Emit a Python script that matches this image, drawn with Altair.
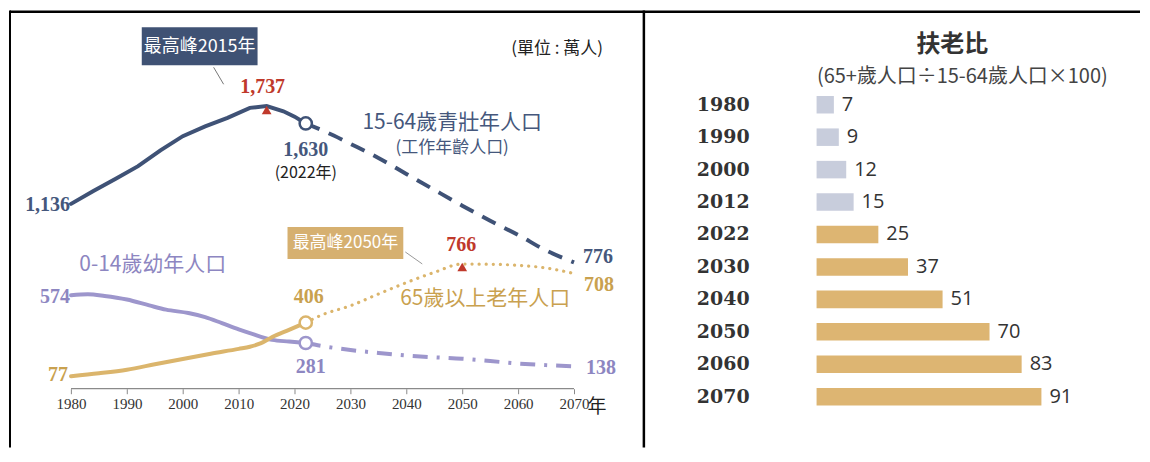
import altair as alt
import pandas as pd

# ---------------- data: population (萬人) ----------------
x_ticks = [1980, 1990, 2000, 2010, 2020, 2030, 2040, 2050, 2060, 2070]

# 15-64歲 (working age)
wa_hist_years = [1980, 1984, 1988, 1992, 1996, 2000, 2004, 2008, 2012, 2015, 2018, 2020, 2022]
wa_hist_vals = [1136, 1215, 1290, 1368, 1465, 1552, 1612, 1665, 1726, 1737, 1705, 1672, 1630]
wa_proj_years = [2022, 2027, 2030, 2035, 2040, 2045, 2050, 2055, 2060, 2065, 2070]
wa_proj_vals = [1630, 1556, 1505, 1418, 1320, 1222, 1125, 1032, 945, 850, 776]

# 0-14歲 (children)
ch_hist_years = [1980, 1983, 1986, 1990, 1994, 1997, 2001, 2004, 2007, 2010, 2012, 2016, 2019, 2022]
ch_hist_vals = [574, 580, 570, 548, 512, 486, 465, 440, 403, 365, 342, 300, 290, 281]
ch_proj_years = [2022, 2025, 2030, 2035, 2040, 2045, 2050, 2055, 2060, 2065, 2070]
ch_proj_vals = [281, 262, 238, 220, 204, 193, 184, 170, 155, 145, 138]

# 65歲以上 (elderly)
old_hist_years = [1980, 1985, 1990, 1995, 2000, 2005, 2010, 2012, 2014, 2016, 2019, 2022]
old_hist_vals = [77, 95, 117, 150, 183, 215, 245, 258, 280, 318, 362, 406]
old_proj_years = [2022, 2025, 2030, 2035, 2040, 2045, 2050, 2055, 2060, 2065, 2070]
old_proj_vals = [406, 455, 510, 582, 652, 715, 766, 765, 758, 742, 708]

# ---------------- data: 扶老比 ----------------
ratio_years = ["1980", "1990", "2000", "2012", "2022", "2030", "2040", "2050", "2060", "2070"]
ratio_vals = [7, 9, 12, 15, 25, 37, 51, 70, 83, 91]
ratio_kind = ["past", "past", "past", "past", "future", "future", "future", "future", "future", "future"]

# ---------------- styles ----------------
NAVY = "#3f5276"
NAVY_T = "#45577c"
PURPLE = "#9d96cc"
PURPLE_T = "#8d86c1"
GOLD = "#dbb56c"
GOLD_T = "#c9a14f"
RED = "#c0392b"
CJK = "Noto Sans CJK TC"
SERIF = "Liberation Serif"

W_L, H_L = 636, 379
X_DOM = [1968.9, 2082.5]
Y_DOM = [0, 2325]


def xenc(field="year"):
    return alt.X(
        f"{field}:Q",
        scale=alt.Scale(domain=X_DOM, nice=False, zero=False),
        axis=alt.Axis(values=x_ticks, format="d", title=None, grid=False, domain=False,
                      ticks=True, tickSize=5, tickColor="#8a8a8a", tickWidth=1,
                      labelFont=SERIF, labelFontSize=15, labelColor="#333333",
                      labelPadding=3, labelFlush=False),
    )


def yenc(field="value"):
    return alt.Y(f"{field}:Q", scale=alt.Scale(domain=Y_DOM, nice=False, zero=True), axis=None)


def series(years, vals):
    return pd.DataFrame({"year": years, "value": vals})


def line(years, vals, color, dash=None, width=4.0, cap="round", interp="monotone"):
    kw = dict(color=color, strokeWidth=width, strokeCap=cap, interpolate=interp)
    if dash:
        kw["strokeDash"] = dash
    return alt.Chart(series(years, vals)).mark_line(**kw).encode(x=xenc(), y=yenc())


def ring(year, value, color):
    return alt.Chart(series([year], [value])).mark_point(
        shape="circle", size=150, filled=True, fill="white", stroke=color,
        strokeWidth=2.5, opacity=1, fillOpacity=1
    ).encode(x=xenc(), y=yenc())


def peak(year, value, yoff):
    return alt.Chart(series([year], [value])).mark_point(
        shape="triangle-up", size=95, filled=True, color=RED, opacity=1, yOffset=yoff
    ).encode(x=xenc(), y=yenc())


def vlabel(year, value, text, color, dx=0, dy=0, align="center", size=20, font=SERIF, weight="bold"):
    df = pd.DataFrame({"year": [year], "value": [value], "t": [text]})
    return alt.Chart(df).mark_text(
        color=color, dx=dx, dy=dy, align=align, baseline="middle",
        font=font, fontSize=size, fontWeight=weight
    ).encode(x=xenc(), y=yenc(), text="t:N")


def note(x, y, text, color, size=20, font=CJK, weight="normal", align="center"):
    return alt.Chart(pd.DataFrame({"t": [text]})).mark_text(
        color=color, fontSize=size, font=font, fontWeight=weight, align=align, baseline="middle"
    ).encode(x=alt.value(x), y=alt.value(y), text="t:N")


def box(x1, x2, y1, y2, color):
    return alt.Chart(pd.DataFrame({"a": [0]})).mark_rect(color=color).encode(
        x=alt.value(x1), x2=alt.value(x2), y=alt.value(y1), y2=alt.value(y2)
    )


def seg(x1, y1, x2, y2, color, width=1.0):
    return alt.Chart(pd.DataFrame({"a": [0]})).mark_rule(color=color, strokeWidth=width).encode(
        x=alt.value(x1), x2=alt.value(x2), y=alt.value(y1), y2=alt.value(y2)
    )


# ---------------- left panel ----------------
frame = [
    seg(1, 1.25, 1133, 1.25, "black", 2.5),
    seg(1, 0, 1, 438, "black", 2),
    seg(636, 0, 636, 438, "black", 2.5),
]

axis_line = alt.Chart(pd.DataFrame({"a": [x_ticks[0]], "b": [x_ticks[-1]], "v": [0]})).mark_rule(
    color="#8a8a8a", strokeWidth=1.3
).encode(x=xenc("a"), x2="b:Q", y=yenc("v"))

lines = [
    line(wa_hist_years, wa_hist_vals, NAVY, interp="linear"),
    line(wa_proj_years, wa_proj_vals, NAVY, dash=[15, 10], cap="butt"),
    line(ch_hist_years, ch_hist_vals, PURPLE),
    line(ch_proj_years, ch_proj_vals, PURPLE, dash=[15, 9, 3, 9], cap="butt"),
    line(old_hist_years, old_hist_vals, GOLD),
    line(old_proj_years, old_proj_vals, GOLD, dash=[0.1, 7], width=3.2, cap="round"),
]

markers = [
    ring(wa_hist_years[-1], wa_hist_vals[-1], NAVY),
    ring(old_hist_years[-1], old_hist_vals[-1], GOLD),
    ring(ch_hist_years[-1], ch_hist_vals[-1], PURPLE),
    peak(2015, max(wa_hist_vals), 4),
    peak(2050, max(old_proj_vals), 3),
]

labels = [
    vlabel(wa_hist_years[0], wa_hist_vals[0], f"{wa_hist_vals[0]:,}", NAVY_T, dx=-1, dy=1, align="right"),
    vlabel(ch_hist_years[0], ch_hist_vals[0], f"{ch_hist_vals[0]:,}", PURPLE_T, dx=-1, dy=2, align="right"),
    vlabel(old_hist_years[0], old_hist_vals[0], f"{old_hist_vals[0]:,}", GOLD_T, dx=-3, dy=-1, align="right"),
    vlabel(2015, max(wa_hist_vals), f"{max(wa_hist_vals):,}", RED, dx=-4, dy=-19),
    vlabel(wa_hist_years[-1], wa_hist_vals[-1], f"{wa_hist_vals[-1]:,}", NAVY_T, dx=0, dy=27),
    vlabel(wa_hist_years[-1], wa_hist_vals[-1], "(2022年)", "#222222", dx=0, dy=50, size=16, font=CJK, weight="normal"),
    vlabel(old_hist_years[-1], old_hist_vals[-1], f"{old_hist_vals[-1]:,}", GOLD_T, dx=3, dy=-26),
    vlabel(ch_hist_years[-1], ch_hist_vals[-1], f"{ch_hist_vals[-1]:,}", PURPLE_T, dx=5, dy=24),
    vlabel(2050, max(old_proj_vals), f"{max(old_proj_vals):,}", RED, dx=-1, dy=-19),
    vlabel(wa_proj_years[-1], wa_proj_vals[-1], f"{wa_proj_vals[-1]:,}", NAVY_T, dx=9, dy=-5, align="left"),
    vlabel(old_proj_years[-1], old_proj_vals[-1], f"{old_proj_vals[-1]:,}", GOLD_T, dx=10, dy=12, align="left"),
    vlabel(ch_proj_years[-1], ch_proj_vals[-1], f"{ch_proj_vals[-1]:,}", PURPLE_T, dx=12, dy=2, align="left"),
]

notes = [
    note(444, 113, "15-64歲青壯年人口", NAVY_T, size=21),
    note(444, 138, "(工作年齡人口)", NAVY_T, size=17),
    note(144, 255, "0-14歲幼年人口", PURPLE_T, size=21),
    note(477, 289, "65歲以上老年人口", GOLD_T, size=21),
    note(549, 39, "(單位 : 萬人)", "#222222", size=17),
    note(589, 397, "年", "#222222", size=19),
    box(133, 249, 17, 55, "#3f5274"),
    note(191, 37, "最高峰2015年", "white", size=18),
    seg(205, 57, 215, 74, "#777777", 1),
    box(279, 395, 217, 249, "#d6b070"),
    note(337, 233, "最高峰2050年", "white", size=17),
    seg(397, 242, 414, 254, "#999999", 1),
]

left = alt.layer(*frame, axis_line, *lines, *markers, *labels, *notes).properties(width=W_L, height=H_L)

# ---------------- right panel ----------------
ratio_df = pd.DataFrame({"year": ratio_years, "ratio": ratio_vals, "kind": ratio_kind})
SHIFT = 85.75

ry = alt.Y(
    "year:N", sort=ratio_years,
    scale=alt.Scale(paddingInner=0.46, paddingOuter=0),
    axis=alt.Axis(title=None, domain=False, ticks=False, grid=False,
                  labelFont="DejaVu Serif", labelFontWeight="bold", labelFontSize=19,
                  labelColor="#333333", labelPadding=94, labelAlign="center",
                  labelOffset=SHIFT),
)
rx = alt.X("ratio:Q", scale=alt.Scale(domain=[0, 130.5], nice=False), axis=None)

bars = alt.Chart(ratio_df).mark_bar(yOffset=SHIFT).encode(
    y=ry, x=rx,
    color=alt.Color("kind:N", scale=alt.Scale(domain=["past", "future"], range=["#c8cddc", "#ddb572"]), legend=None),
)
bar_text = alt.Chart(ratio_df).mark_text(
    align="left", baseline="middle", dx=8, dy=SHIFT, font="Open Sans", fontSize=20, color="#333333"
).encode(y=ry, x=rx, text="ratio:Q")

rtitle = note(136, 35, "扶老比", "#333333", size=24, weight="bold")
rsub = note(146, 67, "(65+歲人口÷15-64歲人口×100)", "#444444", size=20)

right = alt.layer(bars, bar_text, rtitle, rsub).properties(width=323, height=310)

chart = alt.hconcat(left, right, spacing=173, bounds="flush").properties(padding=0).configure_view(stroke=None)

chart.save("out.html", embed_options={"renderer": "svg", "actions": False})
